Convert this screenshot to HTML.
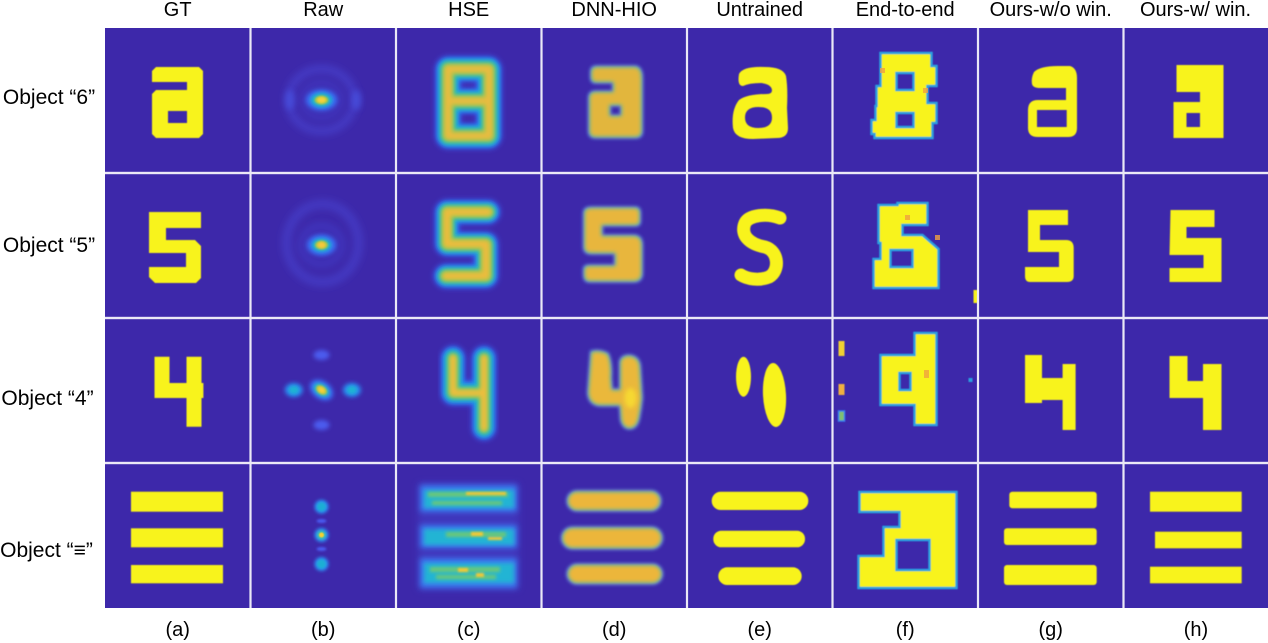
<!DOCTYPE html>
<html><head><meta charset="utf-8"><style>
html,body{margin:0;padding:0;background:#fff;}
svg{display:block;}
text{font-family:"Liberation Sans",Arial,sans-serif;fill:#000;}
</style></head><body>
<svg width="1268" height="643" viewBox="0 0 1268 643" xmlns="http://www.w3.org/2000/svg">
<defs>
<filter id="b06" x="-50%" y="-50%" width="200%" height="200%"><feGaussianBlur stdDeviation="0.6"/></filter>
<filter id="b1" x="-50%" y="-50%" width="200%" height="200%"><feGaussianBlur stdDeviation="1"/></filter>
<filter id="b15" x="-50%" y="-50%" width="200%" height="200%"><feGaussianBlur stdDeviation="1.5"/></filter>
<filter id="b2" x="-50%" y="-50%" width="200%" height="200%"><feGaussianBlur stdDeviation="2"/></filter>
<filter id="b25" x="-50%" y="-50%" width="200%" height="200%"><feGaussianBlur stdDeviation="2.5"/></filter>
<filter id="b3" x="-50%" y="-50%" width="200%" height="200%"><feGaussianBlur stdDeviation="3"/></filter>
<filter id="b4" x="-50%" y="-50%" width="200%" height="200%"><feGaussianBlur stdDeviation="4"/></filter>

<path id="hse1" d="M52,41 H93 V108 H52 Z M52,73 H93"/>
<path id="hse2" d="M92,39 H51 V71 H90 V103 H50"/>
<path id="hse3" d="M57,40 V75 H88 M88,40 V110"/>

<path id="dnn1" fill-rule="evenodd" d="M55,39 H94 Q100,40 100,50 V103 Q100,109 94,109 H54 Q48,109 48,103 V70 Q48,64 54,64 H72 V54 H54 Q50,54 50,49 V44 Q50,39 55,39 Z M68,77 H80 V88 H68 Z"/>
<path id="dnn2" d="M50,35 H94 Q98,35 98,40 V48 Q98,52 94,52 H60 V63 H92 Q100,63 100,72 V100 Q100,108 92,108 H48 Q43,108 43,102 V96 Q43,93 48,93 H74 V80 H50 Q43,80 43,74 V40 Q43,35 50,35 Z"/>
<path id="dnn3" d="M50,34 Q58,32 66,36 Q70,45 69,60 L70,72 H79 V44 Q80,38 88,38 Q97,39 98,48 L100,80 Q99,90 97,100 Q95,110 88,110 Q82,110 80,102 L79,87 H58 Q48,86 47,75 Z"/>
<g id="dnn4">
<rect x="26.5" y="28.7" width="92" height="18.3" rx="9"/>
<rect x="21" y="65" width="99" height="20" rx="10"/>
<rect x="26.5" y="102" width="93.5" height="18" rx="9"/>
</g>
</defs>

<!-- grid background -->
<rect x="105" y="28" width="1163" height="580" fill="#3d28aa"/>

<!-- ===== Column a: GT ===== -->
<g fill="#f8f31a" filter="url(#b06)">
<g transform="translate(105,28)"><path fill-rule="evenodd" d="M51,39 H94 L98,43 V106 L94,110 H51 L47,106 V66 L51,62 H82 V54 H47 V43 Z M63,83 H82 V95 H63 Z"/></g>
<g transform="translate(105,173)"><path d="M44,39 H96 V55 H61 V67 H90 L96,73 V105 L91,110 H50 L44,104 V94 H81 V80 H44 Z"/></g>
<g transform="translate(105,318)"><path d="M49.5,38.7 H64.5 V65 H81.5 V38.7 H96.5 V65 H98.4 V80 H96.5 V108.7 H81.5 V80 H49.5 Z"/></g>
<g transform="translate(105,463)">
<rect x="26" y="28.7" width="92" height="20"/>
<rect x="26" y="65.3" width="92" height="19"/>
<rect x="26" y="102" width="92" height="18.3"/>
</g>
</g>

<!-- ===== Column b: Raw ===== -->
<g transform="translate(250.5,28)">
<g filter="url(#b4)" fill="none">
<ellipse cx="71" cy="72" rx="33" ry="31" stroke="#4d58ee" stroke-width="7" opacity="0.45"/>
<ellipse cx="71" cy="72" rx="19" ry="17" stroke="#4754ea" stroke-width="5" opacity="0.4"/>
</g>
<ellipse cx="39.5" cy="72" rx="5" ry="10" fill="#4858ea" opacity="0.6" filter="url(#b3)"/>
<ellipse cx="106" cy="72" rx="5" ry="10" fill="#4858ea" opacity="0.6" filter="url(#b3)"/>
<ellipse cx="71" cy="72" rx="16" ry="11" fill="#3a6af2" filter="url(#b2)"/>
<ellipse cx="71" cy="72" rx="11" ry="7.5" fill="#1eb0d0" filter="url(#b15)"/>
<ellipse cx="71" cy="72" rx="7" ry="4.5" fill="#a8c845" filter="url(#b1)"/>
<ellipse cx="71" cy="72" rx="4.5" ry="3" fill="#f6d23a" filter="url(#b1)"/>
</g>
<g transform="translate(250.5,173)">
<g filter="url(#b4)" fill="none">
<ellipse cx="72" cy="70" rx="36" ry="39" stroke="#4d58ee" stroke-width="8" opacity="0.4"/>
<ellipse cx="71" cy="72" rx="20" ry="19" stroke="#4754ea" stroke-width="5" opacity="0.4"/>
</g>
<ellipse cx="71" cy="72" rx="15" ry="11" fill="#3a6af2" filter="url(#b2)"/>
<ellipse cx="71" cy="72" rx="10" ry="7" fill="#1eb0d0" filter="url(#b15)"/>
<ellipse cx="71" cy="72" rx="6.5" ry="4.5" fill="#b0c842" filter="url(#b1)"/>
<ellipse cx="71" cy="72" rx="4" ry="3" fill="#f6c83a" filter="url(#b1)"/>
</g>
<g transform="translate(250.5,318)">
<ellipse cx="71" cy="37" rx="8" ry="5" fill="#4b5cee" filter="url(#b2)"/>
<ellipse cx="71" cy="107" rx="8" ry="5" fill="#4b5cee" filter="url(#b2)"/>
<ellipse cx="43.3" cy="72" rx="9" ry="7" fill="#2c8af0" filter="url(#b2)"/>
<ellipse cx="43.3" cy="72" rx="5" ry="4" fill="#1cb4d2" filter="url(#b15)"/>
<ellipse cx="101.4" cy="72" rx="9" ry="7" fill="#2c8af0" filter="url(#b2)"/>
<ellipse cx="101.4" cy="72" rx="5" ry="4" fill="#1cb4d2" filter="url(#b15)"/>
<g transform="rotate(35 71 72)">
<ellipse cx="71" cy="72" rx="13" ry="9" fill="#3a6cf2" filter="url(#b2)"/>
<ellipse cx="71" cy="72" rx="9" ry="6" fill="#20b4cc" filter="url(#b15)"/>
<ellipse cx="71" cy="72" rx="6" ry="4" fill="#c0c840" filter="url(#b1)"/>
<ellipse cx="71" cy="72" rx="3.5" ry="2.5" fill="#f8d038" filter="url(#b1)"/>
</g>
</g>
<g transform="translate(250.5,463)">
<ellipse cx="71" cy="58" rx="5" ry="2" fill="#4a5af0" filter="url(#b1)"/>
<ellipse cx="71" cy="86" rx="5" ry="2" fill="#4a5af0" filter="url(#b1)"/>
<circle cx="71" cy="43.7" r="7" fill="#2a8ef0" filter="url(#b15)"/>
<circle cx="71" cy="43.7" r="4.5" fill="#1eaed4" filter="url(#b1)"/>
<circle cx="71" cy="101" r="7" fill="#2a8ef0" filter="url(#b15)"/>
<circle cx="71" cy="101" r="4.5" fill="#1eaed4" filter="url(#b1)"/>
<circle cx="71" cy="72" r="7" fill="#2a8ef0" filter="url(#b15)"/>
<circle cx="71" cy="72" r="4.5" fill="#3cc0b0" filter="url(#b1)"/>
<circle cx="71" cy="72" r="2.5" fill="#f4d030" filter="url(#b06)"/>
</g>

<!-- ===== Column c: HSE ===== -->
<g transform="translate(396,28)" fill="none" stroke-linejoin="round" stroke-linecap="round">
<use href="#hse1" stroke="#3d5cf0" stroke-width="25" filter="url(#b3)"/>
<use href="#hse1" stroke="#1f9be8" stroke-width="21" filter="url(#b25)"/>
<use href="#hse1" stroke="#24bcbc" stroke-width="17" filter="url(#b2)"/>
<use href="#hse1" stroke="#9ac650" stroke-width="12" filter="url(#b2)"/>
<use href="#hse1" stroke="#e8bc40" stroke-width="7" filter="url(#b2)"/>
</g>
<g transform="translate(396,173)" fill="none" stroke-linejoin="round" stroke-linecap="round">
<use href="#hse2" stroke="#3d5cf0" stroke-width="24" filter="url(#b3)"/>
<use href="#hse2" stroke="#1f9be8" stroke-width="20" filter="url(#b25)"/>
<use href="#hse2" stroke="#24bcbc" stroke-width="16" filter="url(#b2)"/>
<use href="#hse2" stroke="#a0c84c" stroke-width="12" filter="url(#b2)"/>
<use href="#hse2" stroke="#ecbc3c" stroke-width="7" filter="url(#b2)"/>
</g>
<g transform="translate(396,318)" fill="none" stroke-linejoin="round" stroke-linecap="round">
<use href="#hse3" stroke="#3d5cf0" stroke-width="24" filter="url(#b3)"/>
<use href="#hse3" stroke="#1f9be8" stroke-width="20" filter="url(#b25)"/>
<use href="#hse3" stroke="#24bcbc" stroke-width="15" filter="url(#b2)"/>
<use href="#hse3" stroke="#96c850" stroke-width="10" filter="url(#b2)"/>
<use href="#hse3" stroke="#eebe3c" stroke-width="6" filter="url(#b2)"/>
</g>
<g transform="translate(396,463)">
<rect x="22" y="20" width="101" height="107" fill="#4a58e6" opacity="0.3" filter="url(#b4)"/>
<g fill="#3a78f0" filter="url(#b3)">
<rect x="24" y="22" width="97" height="27"/>
<rect x="24" y="62" width="97" height="23"/>
<rect x="24" y="95" width="97" height="30"/>
</g>
<g fill="#22b4d4" filter="url(#b2)">
<rect x="28" y="27" width="90" height="18"/>
<rect x="28" y="66" width="90" height="16"/>
<rect x="28" y="100" width="90" height="20"/>
</g>
<g fill="#6cc878" filter="url(#b15)">
<rect x="32" y="29" width="80" height="5"/>
<rect x="36" y="38" width="70" height="4"/>
<rect x="50" y="69" width="60" height="5"/>
<rect x="34" y="104" width="70" height="5"/>
<rect x="40" y="112" width="60" height="4"/>
</g>
<g fill="#f0c838" filter="url(#b1)">
<rect x="70" y="29" width="40" height="3"/>
<rect x="75" y="69" width="12" height="4"/>
<rect x="92" y="74" width="14" height="3"/>
<rect x="62" y="105" width="10" height="4"/>
<rect x="80" y="110" width="8" height="4"/>
</g>
</g>

<!-- ===== Column d: DNN-HIO ===== -->
<g transform="translate(541.5,28)">
<use href="#dnn1" fill="#3a6cf0" stroke="#3a6cf0" stroke-width="4" filter="url(#b15)"/>
<use href="#dnn1" fill="#2cb4c8" filter="url(#b1)"/>
<use href="#dnn1" fill="#e2b63e" filter="url(#b2)"/>
</g>
<g transform="translate(541.5,173)">
<use href="#dnn2" fill="#3a6cf0" stroke="#3a6cf0" stroke-width="4" filter="url(#b15)"/>
<use href="#dnn2" fill="#2cb4c8" filter="url(#b1)"/>
<use href="#dnn2" fill="#e8b63c" filter="url(#b2)"/>
</g>
<g transform="translate(541.5,318)">
<use href="#dnn3" fill="#3a6cf0" stroke="#3a6cf0" stroke-width="4" filter="url(#b15)"/>
<use href="#dnn3" fill="#2cb4c8" filter="url(#b1)"/>
<use href="#dnn3" fill="#eab83a" filter="url(#b2)"/>
<ellipse cx="89" cy="80" rx="6" ry="10" fill="#f6d830" filter="url(#b2)"/>
</g>
<g transform="translate(541.5,463)">
<use href="#dnn4" fill="#3a6cf0" stroke="#3a6cf0" stroke-width="4" filter="url(#b15)"/>
<use href="#dnn4" fill="#2cb4c8" filter="url(#b1)"/>
<use href="#dnn4" fill="#ecb63a" filter="url(#b2)"/>
</g>

<!-- ===== Column e: Untrained ===== -->
<g fill="#f8f31a" filter="url(#b06)">
<g transform="translate(687,28)"><path fill-rule="evenodd" d="M52,46 Q56,38 78,39 Q96,39 99,48 Q101,60 100,80 L101,100 Q101,110 90,110 L66,111 Q48,111 46,100 Q44,82 52,72 Q60,66 80,66 Q85,66 85,62 Q84,56 74,55 Q62,55 56,58 Q50,58 52,46 Z M58,89.5 Q58,79 71.5,79 Q85,79 85,89.5 Q85,100 71.5,100 Q58,100 58,89.5 Z"/></g>
<g transform="translate(687,173)"><path fill="none" stroke="#f8f31a" stroke-width="13" stroke-linecap="round" stroke-linejoin="round" d="M93,45 C80,40 62,42 58,50 C53,62 62,71 78,74 C92,78 93,98 82,104 C72,108 60,106 54,102"/></g>
<g transform="translate(687,318)">
<ellipse cx="56.5" cy="58.7" rx="7.5" ry="20"/>
<ellipse cx="87.5" cy="77" rx="11.5" ry="32" transform="rotate(-3 87.5 77)"/>
</g>
<g transform="translate(687,463)">
<rect x="24.7" y="28.7" width="96.6" height="18.3" rx="9"/>
<rect x="26.3" y="67.7" width="91.7" height="16.6" rx="8"/>
<rect x="31.3" y="104.3" width="83.4" height="17.7" rx="8.8"/>
</g>
</g>

<!-- ===== Column f: End-to-end ===== -->
<g fill="#f8f31a" stroke="#2aa0e0" stroke-width="2.5" filter="url(#b06)">
<g transform="translate(832.5,28)"><path fill-rule="evenodd" d="M48,25 H99 V38 H104 V58 H95 V75 H104 V95 H100 V110 H42 V106 H39 V92 H43 V78 H44 V58 H48 Z M64,45 H81 V62 H64 Z M64,85 H81 V99 H64 Z"/></g>
<g transform="translate(832.5,173)"><path fill-rule="evenodd" d="M46,32 H65 V30 H95 V52 H70 V62 H90 L106,76 V115 H41 V86 H48 V70 H46 Z M58,77 H80 V94 H58 Z"/>
<rect x="141" y="117" width="4.5" height="13" stroke="none"/></g>
<g transform="translate(832.5,318)"><path fill-rule="evenodd" d="M82,15 H104 V107 H82 V87 H48 V37 H82 Z M67,55 H78 V72 H67 Z"/>
<rect x="6" y="23" width="6" height="15" fill="#f0d030" stroke="none"/>
<rect x="6" y="66" width="6" height="11" fill="#f0b040" stroke="none"/>
<rect x="6" y="93" width="6" height="10" fill="#80c070" stroke="#3a80f0" stroke-width="1.5"/>
<rect x="136" y="60" width="4" height="4" fill="#2aa0e0" stroke="none"/>
</g>
<g transform="translate(832.5,463)"><path fill-rule="evenodd" d="M27,29 H124 V125 H26 V93 H51 V64 H67 V49 H27 Z M64,77 H97 V107 H64 Z"/></g>
</g>
<g fill="#f0a040" opacity="0.8">
<rect x="880" y="68" width="5" height="5"/><rect x="923" y="88" width="5" height="5"/>
<rect x="905" y="215" width="5" height="5"/><rect x="935" y="235" width="5" height="5"/>
<rect x="924" y="370" width="5" height="8"/>
</g>

<!-- ===== Column g: Ours-w/o win ===== -->
<g fill="#f8f31a" filter="url(#b06)">
<g transform="translate(978,28)"><path fill-rule="evenodd" d="M56,44 Q62,38 80,38 L92,38 Q99,40 99,50 V100 Q99,109 90,109 H60 Q50,109 50,100 V82 Q50,72 60,72 H88 V60 H62 Q55,60 54,56 Q53,50 56,44 Z M59,82 H88.7 V99 H59 Z"/></g>
<g transform="translate(978,173)"><path d="M50,37 H90 V52 H62 V67 H88 Q95.7,67 95.7,75 V103 Q95.7,109 89,109 H52 Q47,109 47,103 V94 H81 V79 H50 Z"/></g>
<g transform="translate(978,318)"><path d="M47,37 H64 V60 H84.6 V46 H97.6 V112 H84.6 V82 H64 V85 H47 Z"/></g>
<g transform="translate(978,463)">
<rect x="31.3" y="28.7" width="87.4" height="16.6" rx="3"/>
<rect x="26" y="65.3" width="92.7" height="16.7" rx="3"/>
<rect x="26" y="102" width="92.7" height="20" rx="3"/>
</g>
</g>

<!-- ===== Column h: Ours-w/ win ===== -->
<g fill="#f8f31a" filter="url(#b06)">
<g transform="translate(1123.5,28)"><path fill-rule="evenodd" d="M53,37 H100 V110 H50 V74 H76.5 V64 H53 Z M63,85 H76.5 V99 H63 Z"/></g>
<g transform="translate(1123.5,173)"><path d="M47,37 H91 V54 H63 V65 H98 V109 H46 V95 H80 V82 H46 Z"/></g>
<g transform="translate(1123.5,318)"><path d="M46,38 H64 V63 H79.5 V46 H98 V112 H79.5 V80 H46 Z"/></g>
<g transform="translate(1123.5,463)">
<rect x="26.5" y="28.7" width="91.7" height="20"/>
<rect x="31.5" y="68.7" width="86.7" height="16.6"/>
<rect x="26.5" y="103.7" width="91.7" height="16.6"/>
</g>
</g>

<!-- dividers -->
<g fill="#ebe8f6">
<rect x="249.4" y="28" width="2.2" height="580"/>
<rect x="394.9" y="28" width="2.2" height="580"/>
<rect x="540.4" y="28" width="2.2" height="580"/>
<rect x="685.9" y="28" width="2.2" height="580"/>
<rect x="831.4" y="28" width="2.2" height="580"/>
<rect x="976.9" y="28" width="2.2" height="580"/>
<rect x="1122.4" y="28" width="2.2" height="580"/>
<rect x="105" y="171.8" width="1163" height="2.4"/>
<rect x="105" y="316.8" width="1163" height="2.4"/>
<rect x="105" y="461.8" width="1163" height="2.4"/>
</g>

<!-- column headers -->
<g font-size="20" text-anchor="middle">
<text x="177.7" y="16">GT</text>
<text x="323.2" y="16">Raw</text>
<text x="468.7" y="16">HSE</text>
<text x="614.2" y="16">DNN-HIO</text>
<text x="759.7" y="16">Untrained</text>
<text x="905.2" y="16">End-to-end</text>
<text x="1050.7" y="16">Ours-w/o win.</text>
<text x="1195.5" y="16">Ours-w/ win.</text>
</g>

<!-- row labels -->
<g font-size="21" text-anchor="middle">
<text x="49" y="104">Object “6”</text>
<text x="49" y="252">Object “5”</text>
<text x="47.5" y="405">Object “4”</text>
<text x="46.5" y="557">Object “≡”</text>
</g>

<!-- bottom labels -->
<g font-size="20" text-anchor="middle">
<text x="177.7" y="636">(a)</text>
<text x="323.2" y="636">(b)</text>
<text x="468.7" y="636">(c)</text>
<text x="614.2" y="636">(d)</text>
<text x="759.7" y="636">(e)</text>
<text x="905.2" y="636">(f)</text>
<text x="1050.7" y="636">(g)</text>
<text x="1196" y="636">(h)</text>
</g>
</svg>
</body></html>
